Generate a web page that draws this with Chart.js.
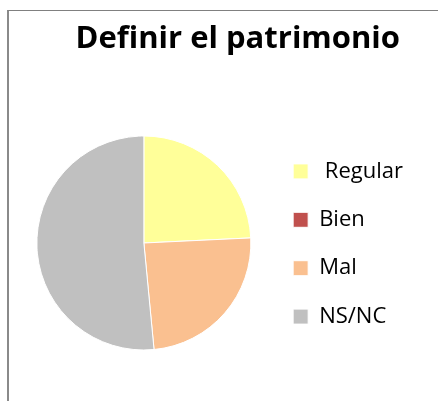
<!DOCTYPE html>
<html>
<head>
<meta charset="utf-8">
<script src="https://cdn.jsdelivr.net/npm/chart.js@4/dist/chart.umd.min.js"></script>
<style>
  html, body { margin: 0; padding: 0; background: #ffffff; }
  #wrap { position: relative; width: 438px; height: 401px; overflow: hidden; background: #fff; }
  #frame { position: absolute; left: 7px; top: 10px; width: 460px; height: 420px;
           border-left: 2px solid #8a8a8a; border-top: 1px solid #808080; box-sizing: border-box; }
  canvas { position: absolute; left: 0; top: 0; }
</style>
</head>
<body>
<div id="wrap">
  <div id="frame"></div>
  <canvas id="c" width="438" height="401"></canvas>
</div>
<script>
const titleText = "Definir el patrimonio";
const categories = [" Regular", "Bien", "Mal", "NS/NC"];
const values = [8, 0, 8, 17];
const colors = ["#FFFF99", "#C0504D", "#FAC090", "#C0C0C0"];

// keep the title's right edge where the reference puts it
const titleEdge = {
  id: "titleEdge",
  afterLayout(chart) {
    if (chart.titleBlock) chart.titleBlock.right = 400;
  }
};

new Chart(document.getElementById("c"), {
  type: "pie",
  data: {
    labels: categories,
    datasets: [{
      data: values,
      backgroundColor: colors,
      borderColor: "#ffffff",
      borderWidth: 1,
      radius: 107
    }]
  },
  options: {
    responsive: false,
    animation: false,
    layout: { padding: { left: 21, right: 25, top: 0, bottom: 0 } },
    plugins: {
      title: {
        display: true,
        text: titleText,
        align: "end",
        color: "#000000",
        font: { family: "Open Sans", size: 31, weight: "bold" },
        padding: { top: 21, bottom: 26.8 }
      },
      legend: {
        display: true,
        position: "right",
        fullSize: true,
        align: "start",
        title: {
          display: true,
          text: " ",
          font: { size: 10 },
          padding: { top: 122, bottom: 0 }
        },
        labels: {
          color: "#000000",
          font: { family: "Open Sans", size: 22 },
          boxWidth: 15,
          boxHeight: 15,
          padding: 26.4
        }
      },
      tooltip: { enabled: false }
    }
  },
  plugins: [titleEdge]
});
</script>
</body>
</html>
